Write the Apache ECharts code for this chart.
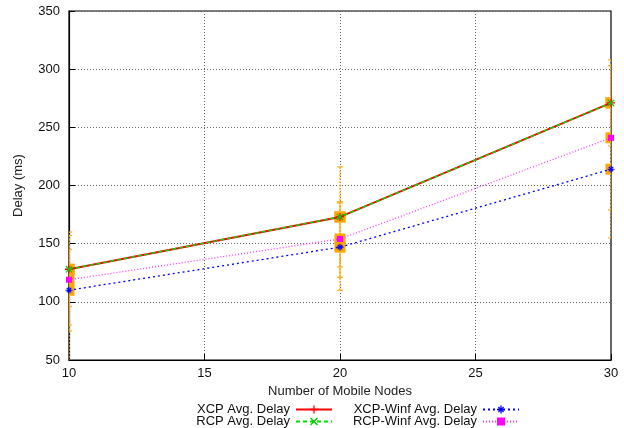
<!DOCTYPE html>
<html><head><meta charset="utf-8">
<script src="https://cdn.jsdelivr.net/npm/echarts@6/dist/echarts.min.js"></script>
<style>html,body{margin:0;padding:0;background:#fff}#c{width:624px;height:428px}</style>
</head><body><div id="c"></div>
<script>
const nodes = [10, 20, 30];
const xcp = [128, 173, 271];
const rcp = [128, 173, 271];
const xcpWinf = [110, 147, 214];
const rcpWinf = [119, 154, 241];
// error bar ranges [low, high]
const xcpErr = [[96, 160], [130, 216], [234, 308]];
const rcpErr = [[80, 157], [121, 186], [239, 303]];
const xcpWinfErr = [[40, 145], [110, 185], [155, 240]];
const rcpWinfErr = [[75, 145], [121, 186], [179, 303]];
const xTicks = [10, 15, 20, 25, 30];
const yTicks = [50, 100, 150, 200, 250, 300, 350];

const FONT = 'Liberation Sans, Arial, sans-serif';
const PLUS = 'path://M0,4.2L10,4.2L10,5.8L0,5.8Z M4.2,0L5.8,0L5.8,10L4.2,10Z';
const CROSS = 'path://M0.6,1.7L1.7,0.6L9.4,8.3L8.3,9.4Z M8.3,0.6L9.4,1.7L1.7,9.4L0.6,8.3Z';
const STAR = 'path://M0,4.2L10,4.2L10,5.8L0,5.8Z M4.2,0L5.8,0L5.8,10L4.2,10Z M1.2,2.3L2.3,1.2L8.8,7.7L7.7,8.8Z M7.7,1.2L8.8,2.3L2.3,8.8L1.2,7.7Z';

function pairs(vals){ return nodes.map((n,i)=>[n, vals[i]]); }
function errData(vals, err){ return nodes.map((n,i)=>[n, err[i][0], err[i][1], vals[i]]); }

function renderErr(params, api){
  const x = api.value(0);
  const lo = api.coord([x, api.value(1)]);
  const hi = api.coord([x, api.value(2)]);
  const mid = api.coord([x, api.value(3)]);
  const cw = 3;
  const st = {stroke:'#ffb020', lineWidth:1.5, lineDash:[2,1.5]};
  const sc = {stroke:'#ffb020', lineWidth:1.2};
  return {type:'group', children:[
    {type:'line', shape:{x1:lo[0], y1:lo[1], x2:hi[0], y2:hi[1]}, style:st},
    {type:'line', shape:{x1:lo[0]-cw, y1:lo[1], x2:lo[0]+cw, y2:lo[1]}, style:sc},
    {type:'line', shape:{x1:hi[0]-cw, y1:hi[1], x2:hi[0]+cw, y2:hi[1]}, style:sc},
    {type:'rect', shape:{x:mid[0]-5.5, y:mid[1]-5.5, width:11, height:11}, style:{fill:'#ffa500'}}
  ]};
}

const chart = echarts.init(document.getElementById('c'), null, {renderer:'canvas'});
const errSeries = (vals, err) => ({type:'custom', renderItem: renderErr, data: errData(vals, err), z:1, silent:true, clip:true, encode:{x:0, y:[1,2]}});
const leg = (name, right, top) => ({orient:'horizontal', right:right, top:top, itemWidth:36, itemHeight:10, align:'right', padding:0,
  textStyle:{fontSize:13, color:'#111', fontFamily:FONT, padding:[0,1,0,0]}, data:[name]});

chart.setOption({
  animation:false,
  backgroundColor:'#fff',
  textStyle:{fontFamily:FONT},
  grid:{left:69, right:13, top:11, bottom:68, show:true, borderColor:'#000', borderWidth:1.2, backgroundColor:'transparent'},
  xAxis:{type:'value', min:10, max:30, interval:5,
    name:'Number of Mobile Nodes', nameLocation:'middle', nameGap:23,
    nameTextStyle:{fontSize:13, color:'#222', fontFamily:FONT},
    axisLine:{show:true, lineStyle:{color:'#000', width:1.2}},
    axisTick:{show:true, inside:true, length:6, lineStyle:{color:'#000'}},
    axisLabel:{fontSize:13, color:'#111', margin:7, fontFamily:FONT},
    splitLine:{show:true, lineStyle:{color:'#666', type:[1,2], width:1}}},
  yAxis:{type:'value', min:50, max:350, interval:50,
    name:'Delay (ms)', nameLocation:'middle', nameGap:44, nameRotate:90,
    nameTextStyle:{fontSize:13, color:'#222', fontFamily:FONT},
    axisLine:{show:true, lineStyle:{color:'#000', width:1.2}},
    axisTick:{show:true, inside:true, length:6, lineStyle:{color:'#000'}},
    axisLabel:{fontSize:13, color:'#111', margin:9, fontFamily:FONT},
    splitLine:{show:true, lineStyle:{color:'#666', type:[1,2], width:1}}},
  legend:[
    leg('XCP Avg. Delay', 291, 403),
    leg('RCP Avg. Delay', 291, 415),
    leg('XCP-Winf Avg. Delay', 104, 403),
    leg('RCP-Winf Avg. Delay', 104, 415)
  ],
  series:[
    errSeries(xcp, xcpErr), errSeries(rcp, rcpErr), errSeries(xcpWinf, xcpWinfErr), errSeries(rcpWinf, rcpWinfErr),
    {name:'XCP Avg. Delay', type:'line', data:pairs(xcp), z:3, symbol:PLUS, symbolSize:8,
     lineStyle:{color:'#ff0000', width:2}, itemStyle:{color:'#ff0000'}},
    {name:'RCP Avg. Delay', type:'line', data:pairs(rcp), z:4, symbol:CROSS, symbolSize:7,
     lineStyle:{color:'#00dd00', width:1.5, type:[4,3]}, itemStyle:{color:'#00cc00'}},
    {name:'XCP-Winf Avg. Delay', type:'line', data:pairs(xcpWinf), z:3, symbol:STAR, symbolSize:7,
     lineStyle:{color:'#0000ff', width:1.3, type:[2,3]}, itemStyle:{color:'#0000ff'}},
    {name:'RCP-Winf Avg. Delay', type:'line', data:pairs(rcpWinf), z:3, symbol:'rect', symbolSize:6,
     lineStyle:{color:'#ff33ff', width:1.3, type:[1,2]}, itemStyle:{color:'#ff00ff'}}
  ]
});
</script></body></html>
